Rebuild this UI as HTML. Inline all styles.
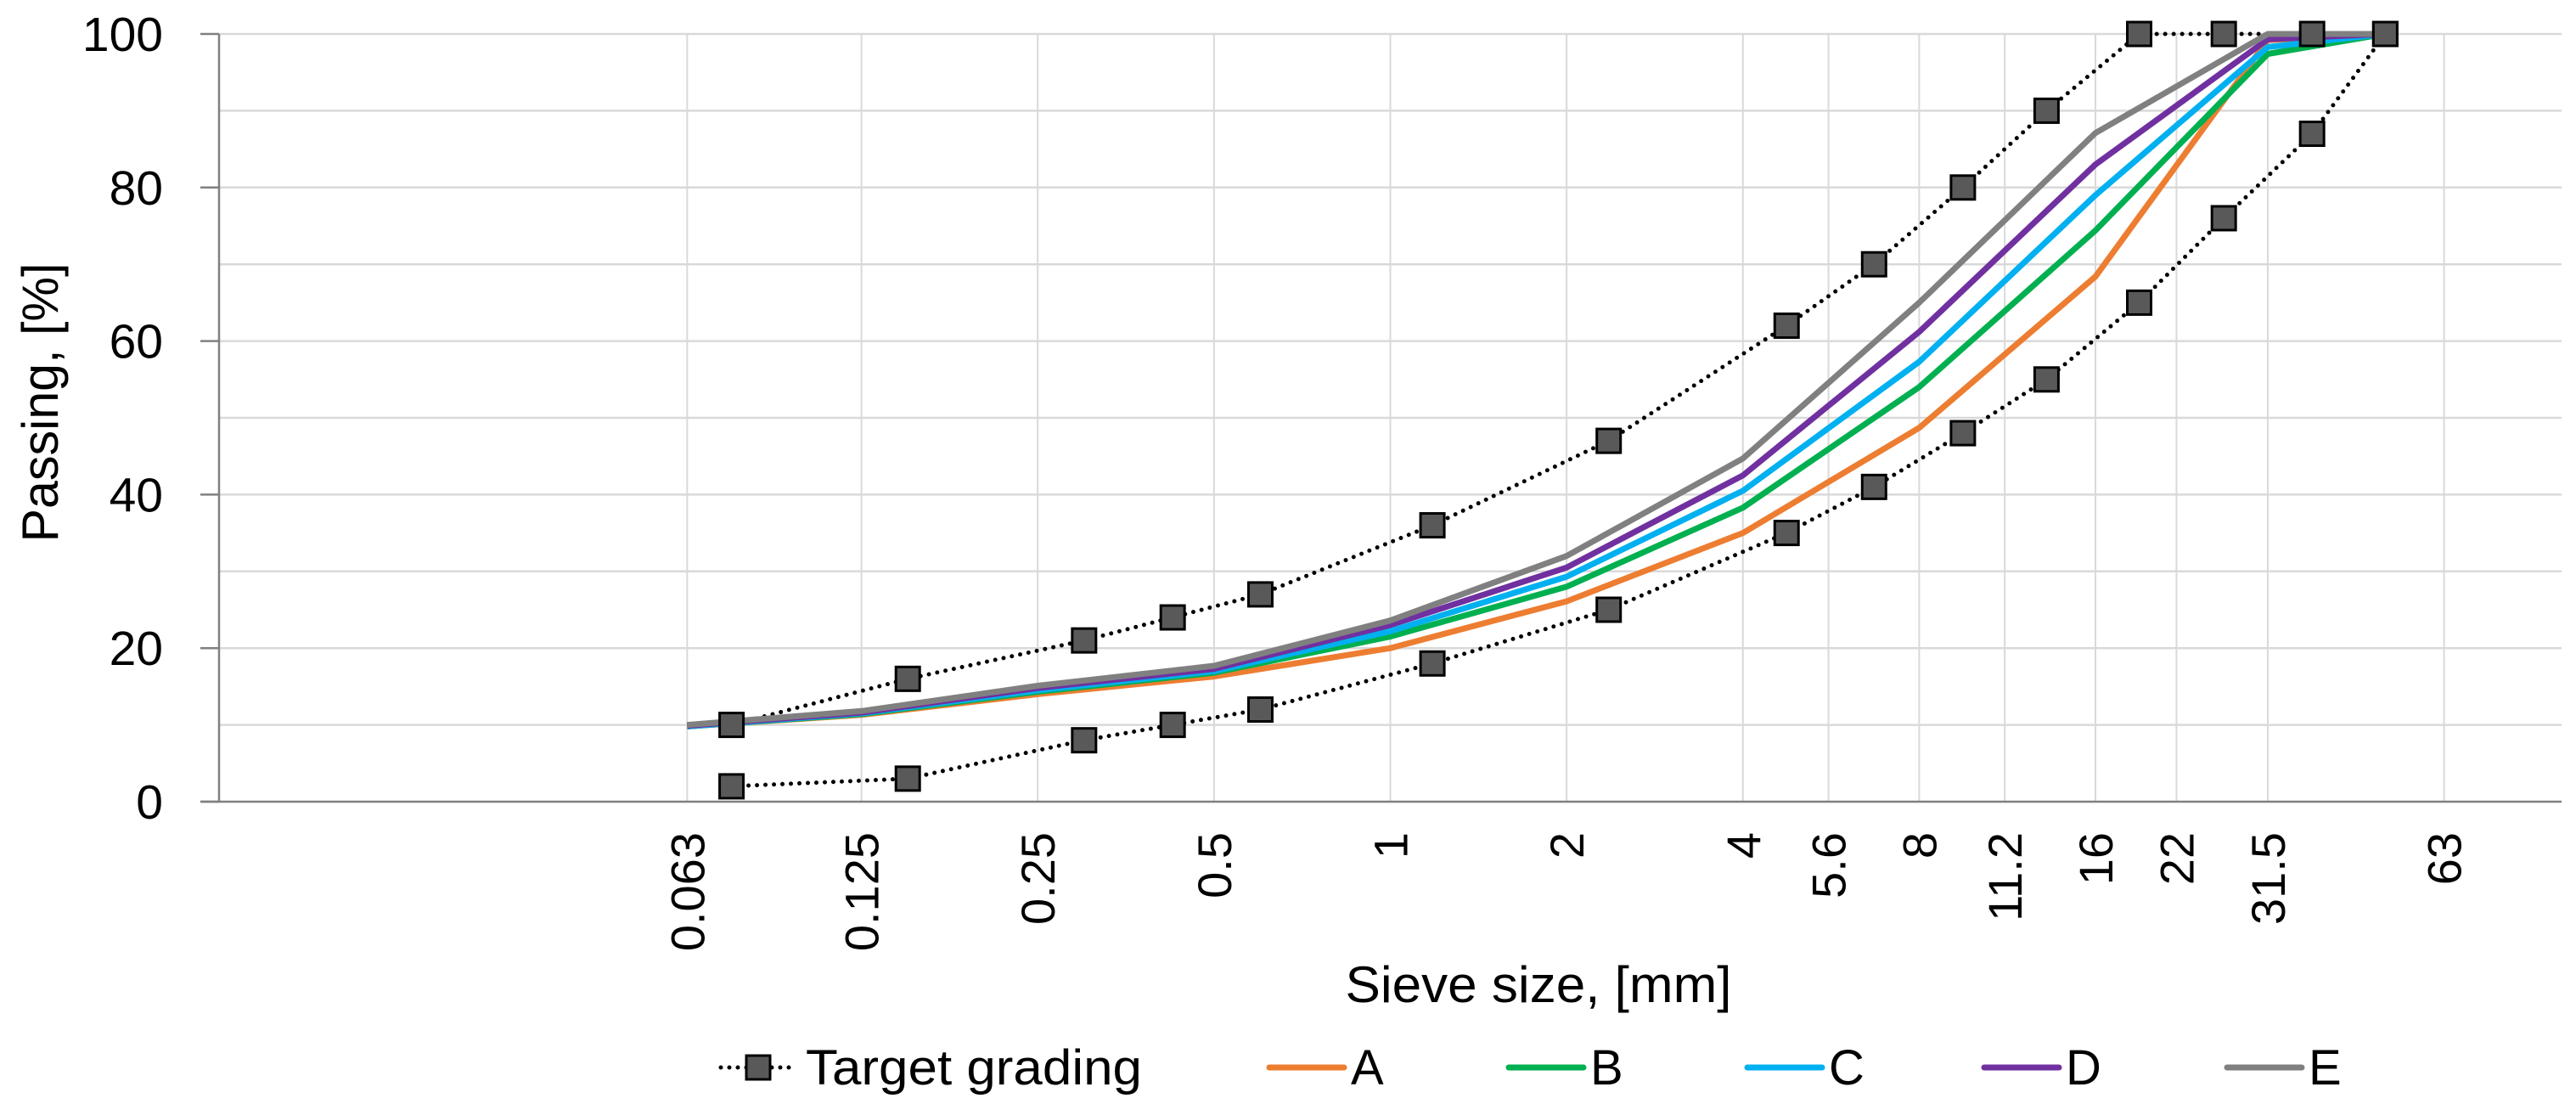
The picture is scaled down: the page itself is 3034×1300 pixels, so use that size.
<!DOCTYPE html>
<html><head><meta charset="utf-8"><style>
html,body{margin:0;padding:0;background:#fff;}
svg{display:block;font-family:"Liberation Sans",sans-serif;}
</style></head>
<body>
<svg id="chart" width="3034" height="1300" viewBox="0 0 3034 1300" xmlns="http://www.w3.org/2000/svg">
<g id="grid"></g>
<g id="axes"></g>
<g id="series"></g>
<text x="1812" y="1180" font-size="60" text-anchor="middle" textLength="455" lengthAdjust="spacingAndGlyphs">Sieve size, [mm]</text>
<text transform="translate(68,474) rotate(-90)" font-size="60" text-anchor="middle" textLength="329" lengthAdjust="spacingAndGlyphs">Passing, [%]</text>
<g id="legend"></g>
</svg>
<script>
const xTicks = [0.063,0.125,0.25,0.5,1,2,4,5.6,8,11.2,16,22,31.5,63];
const xTickLabels = ["0.063","0.125","0.25","0.5","1","2","4","5.6","8","11.2","16","22","31.5","63"];
const yTicks = [0,20,40,60,80,100];
const yGrid = [0,10,20,30,40,50,60,70,80,90,100];
const targetX = [0.075,0.15,0.3,0.425,0.6,1.18,2.36,4.75,6.7,9.5,13.2,19,26.5,37.5,50];
const targetUpper = [10,16,21,24,27,36,47,62,70,80,90,100,100,100,100];
const targetLower = [2,3,8,10,12,18,25,35,41,48,55,65,76,87,100];
const mixX = [0.063,0.125,0.25,0.5,1,2,4,8,16,31.5,50];
const seriesA = [9.8,11.3,14.0,16.3,20.0,26.1,35.0,48.7,68.4,99.2,100];
const seriesB = [9.8,11.4,14.3,16.8,21.5,28.0,38.3,54.0,74.4,97.4,100];
const seriesC = [9.8,11.5,14.5,17.0,22.2,29.3,40.5,57.3,79.0,98.3,100];
const seriesD = [9.9,11.6,14.8,17.3,23.0,30.5,42.5,61.2,83.0,99.3,100];
const seriesE = [10.0,11.8,15.1,17.7,23.6,32.0,44.7,65.0,87.1,100,100];
const seriesNames = ["A","B","C","D","E"];
const seriesColors = ["#ED7D31","#00B050","#00B0F0","#7030A0","#808080"];

const NS="http://www.w3.org/2000/svg";
const L=258,R=3017,T=40,B=944;
const XMIN=0.01,XMAX=100;
function xs(v){return L+(Math.log10(v)-Math.log10(XMIN))/(Math.log10(XMAX)-Math.log10(XMIN))*(R-L);}
function ys(v){return B-(v/100)*(B-T);}
function mk(tag,attrs,parent){const e=document.createElementNS(NS,tag);for(const k in attrs)e.setAttribute(k,attrs[k]);parent.appendChild(e);return e;}
const grid=document.getElementById('grid'),axes=document.getElementById('axes'),ser=document.getElementById('series'),leg=document.getElementById('legend');

yGrid.forEach(v=>{if(v===0)return;const l=mk('line',{x1:L,x2:R,y1:ys(v),y2:ys(v),stroke:'#d9d9d9','stroke-width':2.5},grid);

});
xTicks.forEach((v,i)=>{const l=mk('line',{x1:xs(v),x2:xs(v),y1:T,y2:B,stroke:'#d9d9d9','stroke-width':2},grid);


const t=mk('text',{transform:`translate(${xs(v)+20},980) rotate(-90)`,'font-size':56,'text-anchor':'end'},axes);
t.textContent=xTickLabels[i];

});
const ya=mk('line',{x1:L,x2:L,y1:T,y2:B,stroke:'#808080','stroke-width':2.5},axes);


const xa=mk('line',{x1:L-22,x2:R,y1:B,y2:B,stroke:'#808080','stroke-width':2.5},axes);


yTicks.forEach(v=>{const tk=mk('line',{x1:L-22,x2:L,y1:ys(v),y2:ys(v),stroke:'#808080','stroke-width':2.5},axes);


const t=mk('text',{x:192,y:ys(v)+20,'font-size':57,'text-anchor':'end'},axes);
t.textContent=v;

});

function pts(xv,yv){return xv.map((x,i)=>xs(x).toFixed(1)+','+ys(yv[i]).toFixed(1)).join(' ');}
[targetUpper,targetLower].forEach((arr,k)=>{const p=mk('polyline',{points:pts(targetX,arr),fill:'none',stroke:'#000','stroke-width':5,'stroke-dasharray':'0 10','stroke-linecap':'round'},ser);

});
[seriesA,seriesB,seriesC,seriesD,seriesE].forEach((arr,i)=>{const p=mk('polyline',{points:pts(mixX,arr),fill:'none',stroke:seriesColors[i],'stroke-width':7,'stroke-linejoin':'round'},ser);

});
[targetUpper,targetLower].forEach((arr,k)=>{targetX.forEach((x,i)=>{const r=mk('rect',{x:xs(x)-14,y:ys(arr[i])-14,width:28,height:28,fill:'#595959',stroke:'#000','stroke-width':3},ser);

});});

// legend
const lt=mk('line',{x1:849,x2:935,y1:1257,y2:1257,stroke:'#000','stroke-width':5,'stroke-dasharray':'0 10','stroke-linecap':'round'},leg);


const lr=mk('rect',{x:879,y:1243,width:28,height:28,fill:'#595959',stroke:'#000','stroke-width':3},leg);


const ltx=mk('text',{x:949,y:1277,'font-size':58,textLength:396,lengthAdjust:'spacingAndGlyphs'},leg);
ltx.textContent='Target grading';


const legX=[1495,1777,2058,2337,2623];
seriesNames.forEach((n,i)=>{const l=mk('line',{x1:legX[i],x2:legX[i]+88,y1:1257,y2:1257,stroke:seriesColors[i],'stroke-width':7,'stroke-linecap':'round'},leg);


const t=mk('text',{x:legX[i]+96,y:1277,'font-size':58},leg);
t.textContent=n;

});
</script>
</body></html>
